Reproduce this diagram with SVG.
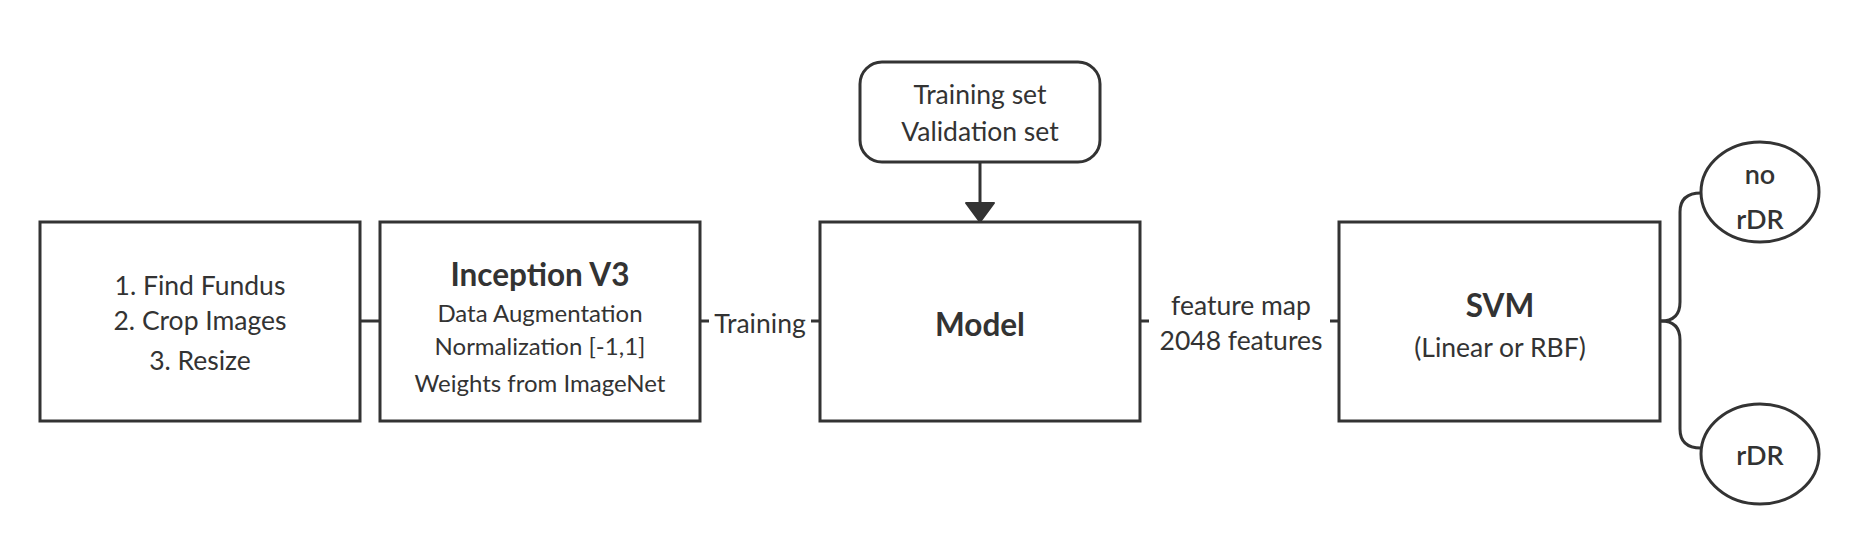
<svg xmlns="http://www.w3.org/2000/svg" width="1860" height="542" viewBox="0 0 1860 542">
<defs>
<style>
.box{fill:#fff;stroke:#333;stroke-width:3}
.ln{fill:none;stroke:#333;stroke-width:3}
text{font-family:Lato,"Open Sans","Liberation Sans",sans-serif;fill:#333;text-anchor:middle;dominant-baseline:central}
.t{font-size:26.5px}
.s{font-size:24px}
.b{font-size:31.5px;font-weight:bold}
.c{font-size:27px;font-weight:600}
</style>
</defs>
<rect width="1860" height="542" fill="#fff"/>
<g id="connectors">
<line class="ln" x1="360" y1="321" x2="380" y2="321"/>
<line class="ln" x1="700" y1="321" x2="709" y2="321"/>
<line class="ln" x1="811" y1="321" x2="820" y2="321"/>
<text class="t" x="760" y="323">Training</text>
<line class="ln" x1="1140" y1="321" x2="1149" y2="321"/>
<line class="ln" x1="1330" y1="321" x2="1339" y2="321"/>
<text class="t" x="1241" y="305">feature map</text>
<text class="t" x="1241" y="340">2048 features</text>
<line class="ln" x1="980" y1="162" x2="980" y2="205"/>
<path d="M966,203 L994,203 L980,222 Z" fill="#333" stroke="#333" stroke-width="2" stroke-linejoin="round"/>
<path class="ln" d="M1701,193 Q1680,193 1680,212 L1680,302 Q1680,321 1661,321"/>
<path class="ln" d="M1701,448 Q1680,448 1680,429 L1680,340 Q1680,321 1661,321"/>
</g>
<g id="preprocess">
<rect class="box" x="40" y="222" width="320" height="199"/>
<text class="t" x="200" y="285">1. Find Fundus</text>
<text class="t" x="200" y="320">2. Crop Images</text>
<text class="t" x="200" y="360">3. Resize</text>
</g>
<g id="inception">
<rect class="box" x="380" y="222" width="320" height="199"/>
<text class="b" x="540" y="274">Inception V3</text>
<text class="s" x="540" y="312">Data Augmentation</text>
<text class="s" x="540" y="345">Normalization [-1,1]</text>
<text class="s" x="540" y="382">Weights from ImageNet</text>
</g>
<g id="datasets">
<rect class="box" x="860" y="62" width="240" height="100" rx="22" ry="22"/>
<text class="t" x="980" y="94">Training set</text>
<text class="t" x="980" y="131">Validation set</text>
</g>
<g id="model">
<rect class="box" x="820" y="222" width="320" height="199"/>
<text class="b" x="980" y="324">Model</text>
</g>
<g id="svm">
<rect class="box" x="1339" y="222" width="321" height="199"/>
<text class="b" x="1500" y="305">SVM</text>
<text class="t" x="1500" y="347">(Linear or RBF)</text>
</g>
<g id="no-rdr">
<ellipse class="box" cx="1760" cy="192" rx="59" ry="50"/>
<text class="c" x="1760" y="173">no</text>
<text class="c" x="1760" y="218">rDR</text>
</g>
<g id="rdr">
<ellipse class="box" cx="1760" cy="454" rx="59" ry="50"/>
<text class="c" x="1760" y="454">rDR</text>
</g>
</svg>
